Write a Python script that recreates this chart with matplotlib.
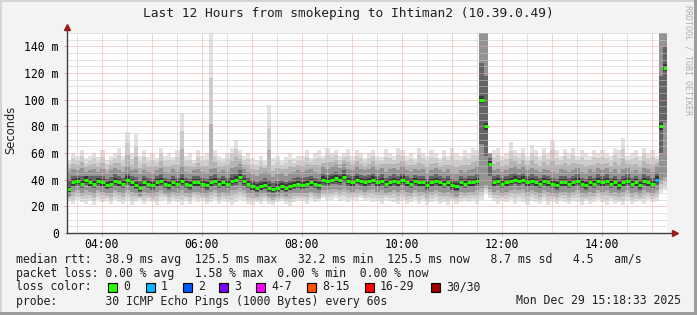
import matplotlib
matplotlib.use("Agg")
import matplotlib.pyplot as plt
from matplotlib.patches import Rectangle
import numpy as np

# 5-minute samples, 03:18:33 -> 15:18:33 (values in ms)
start_hour = 3 + 18.55 / 60
step_hours = 5 / 60

median_rtt = [33, 38, 39, 37, 40, 38, 37, 39,
              38, 36, 37, 39, 38, 37, 40, 38,
              36, 34, 38, 37, 36, 38, 39, 37,
              36, 38, 37, 39, 37, 36, 38, 38,
              37, 36, 38, 39, 37, 38, 37, 39,
              40, 42, 39, 37, 35, 34, 35, 36,
              34, 33, 34, 35, 34, 35, 36, 37,
              36, 37, 38, 37, 36, 40, 39, 40,
              41, 40, 42, 39, 38, 40, 39, 38,
              39, 40, 38, 39, 37, 38, 39, 38,
              40, 38, 37, 39, 38, 38, 36, 38,
              39, 38, 37, 38, 36, 35, 38, 37,
              38, 38, 39, 100, 80, 52, 38, 39,
              37, 38, 39, 40, 39, 40, 38, 39,
              38, 37, 39, 38, 37, 36, 38, 38,
              37, 38, 39, 37, 36, 38, 37, 39,
              38, 39, 37, 38, 36, 38, 39, 37,
              38, 36, 39, 38, 37, 40, 80, 124]

smoke_max = [55, 60, 58, 62, 56, 58, 60, 57,
             62, 55, 58, 60, 64, 58, 76, 60,
             74, 58, 62, 57, 60, 56, 64, 58,
             60, 57, 62, 90, 58, 60, 55, 62,
             58, 60, 150, 62, 58, 56, 60, 64,
             70, 62, 58, 60, 56, 55, 58, 54,
             96, 56, 58, 54, 57, 60, 56, 58,
             58, 62, 56, 60, 62, 58, 64, 60,
             62, 58, 60, 63, 58, 62, 60, 56,
             60, 62, 58, 57, 63, 60, 58, 64,
             62, 58, 60, 56, 64, 60, 58, 62,
             60, 56, 62, 58, 64, 60, 58, 62,
             60, 64, 62, 155, 155, 60, 62, 64,
             58, 60, 68, 62, 60, 64, 58, 66,
             62, 58, 64, 60, 70, 62, 58, 63,
             60, 64, 58, 62, 60, 58, 62, 60,
             62, 60, 58, 64, 62, 71, 58, 60,
             62, 58, 64, 60, 62, 58, 155, 155]

smoke_min = [24, 22, 25, 23, 22, 24, 21, 25,
             23, 24, 22, 25, 23, 22, 24, 21,
             23, 25, 22, 24, 23, 21, 24, 25,
             22, 24, 23, 21, 24, 22, 25, 23,
             24, 22, 23, 25, 22, 24, 23, 21,
             23, 25, 24, 22, 21, 23, 22, 24,
             22, 21, 23, 24, 22, 20, 23, 24,
             24, 22, 25, 23, 24, 26, 24, 25,
             26, 24, 25, 23, 25, 24, 26, 24,
             25, 23, 24, 22, 25, 24, 23, 22,
             24, 22, 23, 25, 22, 24, 21, 23,
             24, 22, 23, 21, 24, 22, 23, 24,
             23, 24, 22, 25, 30, 26, 24, 22,
             24, 23, 25, 22, 24, 23, 21, 24,
             23, 22, 24, 21, 23, 22, 24, 23,
             22, 24, 23, 21, 24, 22, 23, 25,
             23, 21, 24, 22, 23, 21, 24, 22,
             23, 24, 22, 25, 23, 24, 30, 32]

core_high = [46, 48, 47, 49, 46, 47, 48, 46,
             48, 45, 47, 49, 47, 46, 50, 47,
             48, 44, 47, 46, 45, 47, 49, 46,
             45, 48, 46, 50, 46, 45, 47, 48,
             46, 45, 48, 49, 46, 47, 46, 49,
             50, 52, 48, 46, 44, 43, 45, 46,
             45, 42, 44, 45, 43, 45, 46, 47,
             46, 47, 48, 46, 45, 50, 48, 50,
             51, 49, 52, 48, 47, 50, 48, 47,
             48, 50, 47, 49, 46, 48, 49, 47,
             50, 47, 46, 48, 47, 48, 45, 47,
             49, 47, 46, 48, 45, 44, 47, 46,
             47, 48, 50, 155, 155, 60, 47, 48,
             46, 47, 49, 50, 48, 50, 47, 49,
             47, 46, 48, 47, 46, 45, 48, 47,
             46, 47, 49, 46, 45, 48, 46, 49,
             47, 49, 46, 48, 45, 48, 49, 46,
             47, 45, 49, 48, 46, 50, 155, 155]

core_low = [28, 31, 32, 30, 32, 31, 30, 32,
            31, 30, 30, 32, 31, 30, 32, 31,
            30, 28, 31, 30, 29, 31, 32, 30,
            29, 31, 30, 32, 30, 29, 31, 31,
            30, 29, 31, 32, 30, 31, 30, 32,
            32, 34, 32, 30, 29, 28, 29, 30,
            28, 27, 28, 29, 28, 29, 30, 30,
            30, 30, 31, 30, 29, 32, 32, 33,
            33, 32, 34, 32, 31, 33, 32, 31,
            32, 33, 31, 32, 30, 31, 32, 31,
            32, 31, 30, 32, 31, 31, 29, 31,
            32, 31, 30, 31, 29, 28, 31, 30,
            31, 31, 32, 34, 36, 33, 31, 32,
            30, 31, 32, 33, 32, 33, 31, 32,
            31, 30, 32, 31, 30, 29, 31, 31,
            30, 31, 32, 30, 29, 31, 30, 32,
            31, 32, 30, 31, 29, 31, 32, 30,
            31, 29, 32, 31, 30, 32, 40, 42]

loss_pings = [0] * 141 + [1, 0, 0]

loss_labels = ['0', '1', '2', '3', '4-7', '8-15', '16-29', '30/30']
loss_colors = ['#26ff00', '#00b8ff', '#0059ff', '#7e00ff',
               '#ff00ff', '#ff5500', '#ff0000', '#a10000']

title = 'Last 12 Hours from smokeping to Ihtiman2 (10.39.0.49)'
stats_lines = [
    'median rtt:  38.9 ms avg  125.5 ms max   32.2 ms min  125.5 ms now   8.7 ms sd   4.5   am/s',
    'packet loss: 0.00 % avg   1.58 % max  0.00 % min  0.00 % now',
]
probe_text = 'probe:       30 ICMP Echo Pings (1000 Bytes) every 60s'
date_text = 'Mon Dec 29 15:18:33 2025'

plt.rcParams['lines.scale_dashes'] = False

W, H = 697, 315
mono = 'DejaVu Sans Mono'
fig = plt.figure(figsize=(W / 100, H / 100), dpi=100, facecolor='#f3f3f3')


def fx(x):
    return x / W


def fy(y):
    return 1 - y / H


ax = fig.add_axes([fx(67), 82 / H, 600 / W, 200 / H])
ax.set_facecolor('white')

n = len(median_rtt)
edges = start_hour + step_hours * np.arange(n + 1)
med = np.array(median_rtt, float)
lo = np.array(smoke_min, float)
hi = np.array(smoke_max, float)
ql = np.array(core_low, float)
qh = np.array(core_high, float)


def band(bottom, top, color):
    b = np.append(bottom, bottom[-1])
    t = np.append(top, top[-1])
    ax.fill_between(edges, b, t, step='post', color=color, lw=0, zorder=1)


band(lo, hi, '#e2e2e2')
band((2 * lo + ql) / 3, (2 * hi + qh) / 3, '#cdcdcd')
band((lo + 2 * ql) / 3, (hi + 2 * qh) / 3, '#b3b3b3')
band(ql, qh, '#939393')
band((ql + med) / 2, (qh + med) / 2, '#646464')
band(med - 2.5, med + 2.5, '#383838')

# dotted grid drawn over the smoke
px = 0.72
for h in np.arange(3.5, 15.5, 0.5):
    major = abs(h - round(h)) < 1e-6
    ax.axvline(h, color='#f0a0a0' if major else '#c8c8c8', lw=px,
               dashes=(px, px), zorder=2)
for v in np.arange(5, 151, 5):
    major = v % 20 == 0
    ax.axhline(v, color='#f0a0a0' if major else '#c8c8c8', lw=px,
               dashes=(px, px), zorder=2)

# median points coloured by loss
for i in range(n):
    ax.hlines(med[i], edges[i], edges[i + 1], color=loss_colors[loss_pings[i]],
              lw=2.2, zorder=3)

ax.set_xlim(start_hour, start_hour + 12)
ax.set_ylim(0, 150)
for s in ax.spines.values():
    s.set_visible(False)

xt = [4, 6, 8, 10, 12, 14]
ax.set_xticks(xt)
ax.set_xticklabels(['%02d:00' % h for h in xt], fontfamily=mono, fontsize=8.3)
yt = list(range(0, 141, 20))
ax.set_yticks(yt)
ax.set_yticklabels(['0' if v == 0 else '%d m' % v for v in yt],
                   fontfamily=mono, fontsize=8.3)
ax.tick_params(axis='both', length=2, width=0.7, color='#e0a0a0', pad=1.5)
ax.tick_params(axis='y', pad=4)

# axis lines with arrows
ax.plot([0, 0], [0, 1.03], transform=ax.transAxes, color='#404040', lw=1,
        clip_on=False, zorder=4)
ax.plot([0, 1.013], [0, 0], transform=ax.transAxes, color='#404040', lw=1,
        clip_on=False, zorder=4)
ax.plot([0], [1.03], transform=ax.transAxes, marker='^', ms=5, color='#9b1c1c',
        clip_on=False, zorder=5)
ax.plot([1.013], [0], transform=ax.transAxes, marker='>', ms=5, color='#9b1c1c',
        clip_on=False, zorder=5)

fig.text(fx(348), fy(14), title, ha='center', va='center', fontfamily=mono,
         fontsize=9.3, color='#202020')
fig.text(fx(11), fy(130), 'Seconds', rotation=90, ha='center', va='center',
         fontsize=8.3, color='#202020')
fig.text(fx(688), fy(5), 'RRDTOOL / TOBI OETIKER', rotation=270, ha='center',
         va='top', fontfamily=mono, fontsize=6, color='#b0b0b0')

ys = [259, 273, 287, 301]
for y, line in zip(ys[:2], stats_lines):
    fig.text(fx(16), fy(y), line, ha='left', va='center', fontfamily=mono,
             fontsize=8.3, color='#202020')
fig.text(fx(16), fy(ys[2]), 'loss color:', ha='left', va='center',
         fontfamily=mono, fontsize=8.3, color='#202020')
box_x = [108, 146, 183, 219, 256, 307, 365, 431]
for bx, lab, col in zip(box_x, loss_labels, loss_colors):
    fig.patches.append(Rectangle((fx(bx), fy(ys[2] + 4.5)), 9 / W, 9 / H,
                                 transform=fig.transFigure, facecolor=col,
                                 edgecolor='black', lw=0.8))
    fig.text(fx(bx + 15), fy(ys[2]), lab, ha='left', va='center',
             fontfamily=mono, fontsize=8.3, color='#202020')
fig.text(fx(16), fy(ys[3]), probe_text, ha='left', va='center',
         fontfamily=mono, fontsize=8.3, color='#202020')
fig.text(fx(681), fy(ys[3]), date_text, ha='right', va='center',
         fontfamily=mono, fontsize=8.3, color='#202020')

# 3d-ish frame around the image
fig.patches.append(Rectangle((0, 1 - 2 / H), 1, 2 / H, transform=fig.transFigure,
                             color='#d4d4d4', lw=0))
fig.patches.append(Rectangle((0, 0), 2 / W, 1, transform=fig.transFigure,
                             color='#d4d4d4', lw=0))
fig.patches.append(Rectangle((0, 0), 1, 3 / H, transform=fig.transFigure,
                             color='#9c9c9c', lw=0))
fig.patches.append(Rectangle((1 - 3 / W, 0), 3 / W, 1, transform=fig.transFigure,
                             color='#9c9c9c', lw=0))

fig.savefig('out.png', dpi=100, facecolor=fig.get_facecolor())
